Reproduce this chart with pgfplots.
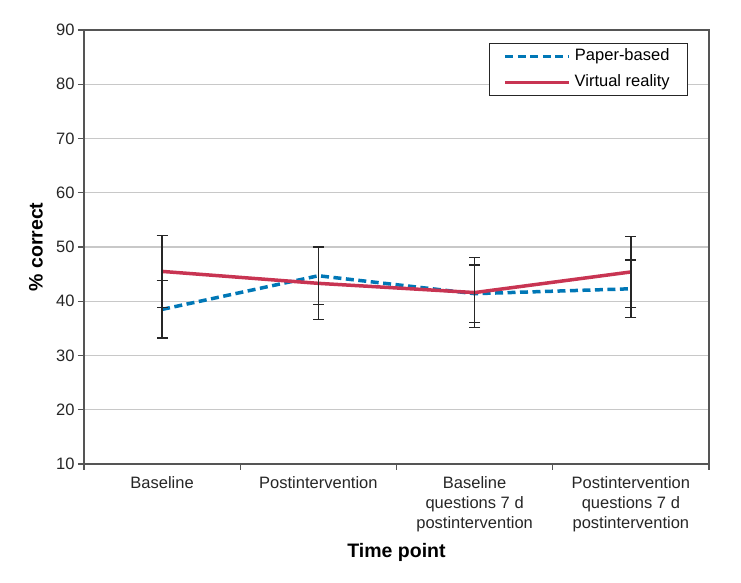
\documentclass[border=0pt]{standalone}
\usepackage{pgfplots}
\pgfplotsset{compat=1.18}
\usepackage{fontspec}
\setmainfont{Liberation Sans}
\definecolor{paperblue}{RGB}{0,119,182}
\definecolor{vrred}{RGB}{200,52,82}
\definecolor{gridgray}{RGB}{200,200,200}
\definecolor{framegray}{RGB}{85,85,85}
\begin{document}
\begin{tikzpicture}
\useasboundingbox (0,0) rectangle (741bp,583bp);
\begin{axis}[
  at={(84bp,119bp)}, anchor=south west,
  width=625bp, height=434bp, scale only axis,
  xmin=-0.5, xmax=3.5, ymin=10, ymax=90,
  ytick={10,20,...,90},
  xtick={0,1,2,3},
  xticklabels={Baseline, Postintervention, {Baseline\\questions 7 d\\postintervention}, {Postintervention\\questions 7 d\\postintervention}},
  minor xtick={-0.5,0.5,1.5,2.5,3.5},
  every major x tick/.append style={draw=none},
  tick pos=left, tick align=outside,
  major tick length=6bp, minor tick length=6bp,
  every tick/.style={framegray, line width=1.2bp},
  axis line style={framegray, line width=1.3bp},
  ymajorgrids, grid style={gridgray, line width=1.3bp},
  /pgf/number format/assume math mode=true,
  tick label style={font=\fontsize{16.5bp}{20bp}\selectfont, text=black!85},
  xticklabel style={align=center, yshift=-3bp},
  xlabel={\textbf{Time point}},
  ylabel={\textbf{\% correct}},
  label style={font=\fontsize{19.5bp}{22bp}\selectfont},
  xlabel style={at={(axis description cs:0.5,-0.203)}, anchor=center},
  ylabel style={at={(axis description cs:-0.077,0.5)}, anchor=center},
  legend image code/.code={\draw[#1] (0bp,0bp) -- (64bp,0bp);},
  legend style={at={(0.966,0.970)}, anchor=north east, draw=black!85, line width=1bp,
    inner xsep=14bp, inner ysep=0bp, row sep=0bp,
    font=\fontsize{16.5bp}{20bp}\selectfont,
    nodes={inner ysep=5bp, inner xsep=3.5bp, text height=12bp, text depth=4bp}},
  error bars/y dir=both, error bars/y explicit,
  error bars/error bar style={black!85, line width=1.3bp, solid},
  error bars/error mark options={rotate=90, mark size=5.5bp, black!85, line width=1.3bp, solid},
]
\addplot[paperblue, line width=3.5bp, dash pattern=on 8bp off 4.5bp] coordinates {
  (0,38.5) +- (0,5.3)
  (1,44.7) +- (0,5.3)
  (2,41.4) +- (0,5.3)
  (3,42.3) +- (0,5.3)
};
\addlegendentry{Paper-based}
\addplot[vrred, line width=3.5bp] coordinates {
  (0,45.5) +- (0,6.6)
  (1,43.3) +- (0,6.6)
  (2,41.6) +- (0,6.5)
  (3,45.4) +- (0,6.6)
};
\addlegendentry{Virtual reality}
\end{axis}
\end{tikzpicture}
\end{document}
